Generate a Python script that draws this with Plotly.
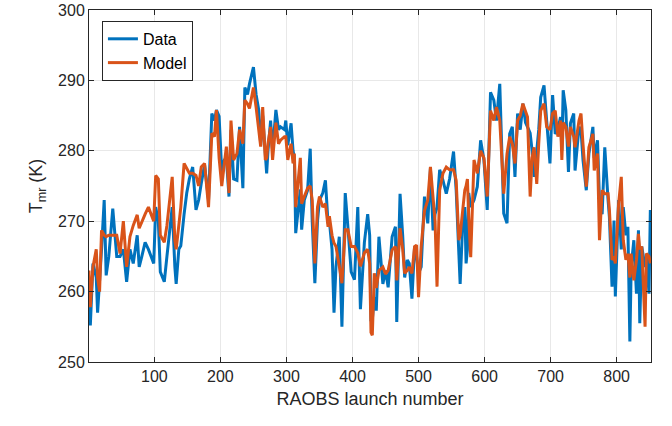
import plotly.graph_objects as go

launch = [1, 3, 7, 12, 14, 17, 20, 24, 27, 31, 37, 43, 48, 53, 58, 63, 68, 74, 77, 81, 86, 91, 99,
          102, 106, 109, 115, 119, 127, 131, 133, 137, 140, 145, 149, 153, 158, 163, 167, 171, 176,
          182, 187, 191, 194, 198, 202, 206, 209, 213, 216, 220, 225, 229, 234, 237, 241, 244, 250,
          254, 258, 261, 264, 268, 270, 272, 276, 279, 284, 288, 291, 297, 299, 302, 307, 310, 312,
          314, 321, 323, 327, 332, 336, 339, 343, 347, 350, 355, 359, 363, 365, 369, 372, 375, 380,
          384, 389, 393, 398, 403, 408, 412, 418, 423, 426, 428, 430, 433, 436, 440, 446, 450, 454,
          460, 465, 467, 472, 476, 479, 483, 486, 490, 494, 497, 500, 504, 509, 514, 518, 522, 525,
          528, 532, 537, 542, 547, 553, 557, 561, 563, 567, 570, 572, 574, 576, 579, 584, 589, 594,
          599, 604, 609, 614, 618, 623, 625, 629, 634, 638, 642, 646, 650, 654, 658, 662, 665, 669,
          672, 675, 679, 682, 685, 690, 694, 699, 703, 707, 711, 715, 717, 719, 723, 727, 730, 735,
          737, 743, 746, 749, 754, 758, 764, 766, 771, 774, 778, 782, 787, 789, 793, 796, 798, 803,
          807, 810, 814, 817, 820, 822, 826, 830, 833, 835, 838, 843, 845, 849, 851]

data_tmr = [259, 255.2, 264, 262, 257, 261, 266, 273, 262.3, 265, 271.8, 265, 265, 266, 261.4, 266,
            264, 268, 263.5, 265, 267, 266, 264, 272, 270, 262.8, 261.4, 265, 272, 263.5, 261.1, 266,
            266.5, 271, 274, 276, 277.7, 271.6, 273, 275.4, 278, 273, 285.3, 284.3, 285.8, 284.9, 277,
            278.7, 279, 273.5, 283, 276, 275.8, 283.4, 274.7, 289, 288, 289.5, 291.9, 288, 285.8,
            280.8, 285, 279.5, 276.8, 280, 284.3, 280, 285.8, 283, 283.4, 283, 284.3, 280.8, 283.9,
            280, 279, 268.3, 274.5, 268.8, 273, 274.4, 280.3, 270, 261.2, 270, 273, 274, 275.8, 269.7,
            270, 266, 257, 263.6, 267.8, 255, 274, 269.2, 262.8, 261.7, 272, 257.5, 267, 271, 268,
            256, 256, 259.2, 257.3, 267.8, 261.1, 263, 260.6, 267.8, 269.2, 255.7, 273.9, 268, 262,
            264.5, 264, 259, 266.4, 265, 262.6, 263.5, 273.5, 269.7, 277.5, 268.7, 271, 272, 277.3,
            275.8, 273.9, 276, 279.9, 274.4, 266.4, 261.1, 270, 272, 264, 266, 274, 272, 273, 274.9,
            281.5, 278.7, 271.6, 288.3, 287.2, 284.3, 289.5, 283, 271.1, 269.7, 282.4, 283.4, 276.3,
            285.3, 283, 286.7, 284, 283.4, 282.5, 280, 276.3, 280, 283, 287.6, 289.3, 284.3, 278.2,
            287.9, 282.4, 283, 284.8, 280, 288.6, 285.8, 277, 283.9, 285.3, 277.2, 283.4, 283, 278.7,
            274.4, 279.6, 283.4, 279, 281.5, 273, 271, 280.5, 273, 270.6, 260.7, 270.1, 259.3, 273,
            266, 272, 268, 269.2, 252.9, 263.5, 267.3, 259.7, 268.7, 255.5, 266.4, 263.5, 264.9,
            259.7, 271.6]

model_tmr = [263, 257.8, 263.5, 266, 262, 260, 268.7, 268, 267.8, 268, 268, 268, 265.4, 270, 263.5,
             267.8, 269.4, 270.9, 269, 270, 271, 272, 270, 276.5, 276, 268, 267, 269.4, 276.3, 267.3,
             266, 269.4, 272, 278.2, 277.5, 276.8, 276.8, 276.5, 275, 277.7, 278.2, 272, 282.5, 282,
             285.8, 279, 275, 278.2, 280.6, 274, 284.3, 278.7, 279.6, 283, 281, 287.2, 286.7, 286,
             289, 286.2, 283.4, 280.6, 286.2, 278.7, 279, 281, 283.4, 278.7, 284, 281, 281.5, 282,
             282, 278.7, 281, 278.2, 279.6, 272, 279, 272.5, 273.5, 274.7, 275, 273, 264, 272, 273.5,
             272, 272.5, 269.2, 270.7, 268, 266.9, 266.4, 263.6, 261.2, 268.8, 268.8, 266.4, 266.4,
             265.5, 263.6, 265.5, 266, 264, 254.2, 253.8, 262.6, 260.5, 263, 263.5, 262.5, 263,
             265.9, 266.4, 261.6, 269, 266, 262.6, 263, 263.5, 262.6, 266.4, 266.6, 259.2, 266.4,
             271.5, 273, 277.7, 273, 270, 260.7, 274.4, 276.8, 277.7, 277.3, 277.3, 275.8, 267.3,
             268, 272, 274.4, 275, 276, 270.6, 264.9, 278.7, 276.8, 280, 279, 273.5, 285.7, 284.3,
             286.2, 284.3, 281, 273.9, 279.6, 282, 281, 278.2, 284.3, 285, 286.7, 285.5, 284.8,
             273.5, 279, 280.5, 275.3, 281, 285.7, 286.7, 283.4, 283, 285.3, 285.7, 282, 284.3,
             278.7, 284, 283.4, 280.6, 283.4, 282, 280.5, 284.3, 285.3, 281, 274.9, 280.5, 282.4,
             277.2, 279.6, 267.3, 274.4, 273.9, 273.9, 271.6, 264.5, 265, 264, 272.5, 276.3, 267.3,
             264.5, 265.4, 262, 265.4, 261.6, 264.5, 268.2, 266, 266.4, 255, 265.4, 265, 264]

series_names = ["Data", "Model"]
series_colors = ["#0072BD", "#D95319"]

fig = go.Figure()
for name, vals, col in zip(series_names, [data_tmr, model_tmr], series_colors):
    fig.add_trace(go.Scatter(x=launch, y=vals, mode="lines", name=name,
                             line=dict(color=col, width=3)))

font_fam = "Liberation Sans, Arial, sans-serif"
axis_common = dict(showline=True, linecolor="#262626", linewidth=1, mirror="ticks",
                   ticks="inside", ticklen=5, tickcolor="#262626", showgrid=True,
                   gridcolor="#e8e8e8", gridwidth=1, zeroline=False, automargin=False,
                   tickfont=dict(family=font_fam, size=16, color="#262626"))

fig.update_layout(
    width=672, height=426,
    margin=dict(l=89, r=21, t=10, b=64),
    paper_bgcolor="white", plot_bgcolor="white",
    showlegend=True,
    legend=dict(x=0.023, y=0.969, xanchor="left", yanchor="top",
                bgcolor="white", bordercolor="#262626", borderwidth=1,
                font=dict(family=font_fam, size=16, color="#000000")),
    xaxis=dict(range=[1, 852], tickvals=[100, 200, 300, 400, 500, 600, 700, 800],
               title=dict(text="RAOBS launch number", standoff=8,
                          font=dict(family=font_fam, size=18, color="#262626")),
               **axis_common),
    yaxis=dict(range=[250, 300], tickvals=[250, 260, 270, 280, 290, 300],
               title=dict(text="T<sub>mr</sub> (K)", standoff=10,
                          font=dict(family=font_fam, size=18, color="#262626")),
               **axis_common),
)

fig.write_html("out.html")
